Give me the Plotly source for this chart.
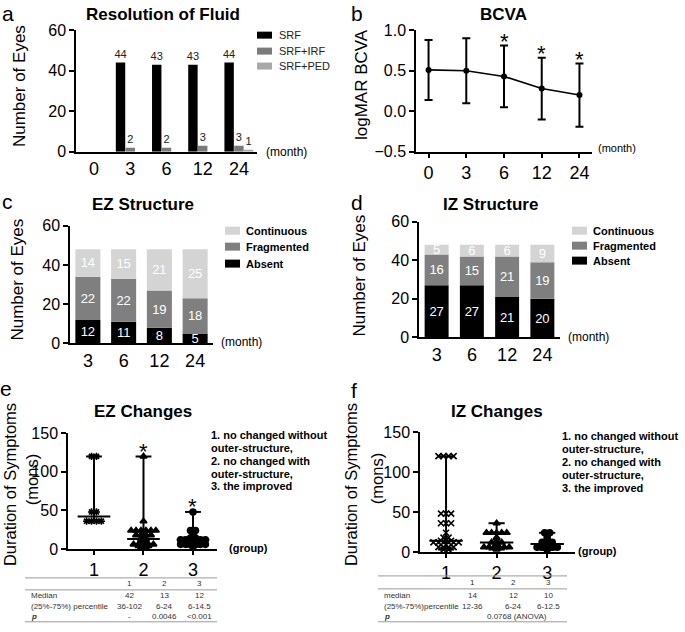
import plotly.graph_objects as go
import numpy as np

W, H = 685, 632
FONT = "Liberation Sans, Arial, sans-serif"

# ---------------- data ----------------
# a: Resolution of Fluid
months_a = ["0", "3", "6", "12", "24"]
srf = [0, 44, 43, 43, 44]
srf_irf = [0, 2, 2, 3, 3]
srf_ped = [0, 0, 0, 0, 1]

# b: BCVA
months_b = ["0", "3", "6", "12", "24"]
bcva_mean = [0.51, 0.50, 0.43, 0.28, 0.20]
bcva_sd = [0.37, 0.40, 0.38, 0.38, 0.39]
bcva_sig = [False, False, True, True, True]

# c / d: structure
months_cd = ["3", "6", "12", "24"]
ez_absent = [12, 11, 8, 5]
ez_frag = [22, 22, 19, 18]
ez_cont = [14, 15, 21, 25]
iz_absent = [27, 27, 21, 20]
iz_frag = [16, 15, 21, 19]
iz_cont = [5, 6, 6, 9]

# e: EZ changes (duration of symptoms, months)
ez_g1 = [120, 120, 48, 48, 36, 36, 36, 36]
ez_g2 = [120, 36, 24, 24, 24, 24, 24, 24, 18, 18, 18, 18, 14, 13, 13, 12,
         10, 10, 8, 6, 6, 6, 6, 6, 4, 4, 4, 3, 3]
ez_g3 = [48, 24, 24, 18, 14, 14, 12, 12, 12, 12, 12, 12, 10, 8,
         6, 6, 6, 6, 6, 6, 3]
ez_sig = [False, True, True]
# f: IZ changes
iz_g1 = [120, 120, 120, 120, 48, 48, 48, 36, 36, 36, 24, 18, 18, 14, 14, 14,
         12, 12, 12, 12, 12, 12, 6, 6, 6, 6, 3, 3]
iz_g2 = [36, 24, 24, 24, 24, 24, 18, 14, 12, 12, 12, 10, 6, 6, 6, 6, 6, 6, 4, 3]
iz_g3 = [24, 24, 18, 14, 12, 12, 12, 10, 10, 6, 6, 6, 6, 6, 3]
iz_sig = [False, False, False]

groups = ["1", "2", "3"]
legend_groups = ["1. no changed without", "outer-structure,", "2. no changed with",
                 "outer-structure,", "3. the improved"]

# tables
ez_tab_rows = ["Median", "(25%-75%) percentile", "p"]
ez_tab_vals = [["42", "13", "12"], ["36-102", "6-24", "6-14.5"], ["-", "0.0046", "<0.001"]]
iz_tab_rows = ["median", "(25%-75%)percentile", "p"]
iz_tab_vals = [["14", "12", "10"], ["12-36", "6-24", "6-12.5"]]
iz_tab_p = "0.0768 (ANOVA)"

BLACK = "#000000"
DGRAY = "#7f7f7f"
LGRAY = "#d4d4d4"
A_IRF = "#7a7a7a"
A_PED = "#a8a8a8"

# the captured page is 16 px taller than the figure and is fitted back to 632 px;
# place items so that they land where the reference shows them
VS = (H + 16) / H


def PX(x):
    return x / W


def PY(y):
    return 1 - (y * VS - 8) / H


fig = go.Figure()
ann = []
shapes = []


def text(t, x, y, size, bold=False, color="black", xanchor="center",
         yanchor="middle", angle=0, italic=False):
    if bold:
        t = "<b>" + t + "</b>"
    if italic:
        t = "<i>" + t + "</i>"
    ann.append(dict(text=t, x=PX(x), y=PY(y), xref="paper", yref="paper",
                    showarrow=False, xanchor=xanchor, yanchor=yanchor, borderpad=0,
                    textangle=angle, font=dict(family=FONT, size=size, color=color)))


def rect(x0, y0, x1, y1, color):
    shapes.append(dict(type="rect", xref="paper", yref="paper", x0=PX(x0), x1=PX(x1),
                       y0=PY(y1), y1=PY(y0), fillcolor=color, line=dict(width=0)))


def hline(x0, x1, y, color="#9a9a9a", w=1):
    shapes.append(dict(type="line", xref="paper", yref="paper", x0=PX(x0), x1=PX(x1),
                       y0=PY(y), y1=PY(y), line=dict(color=color, width=w)))


# ---------------- panel a ----------------
bw = 0.26
for vals, col, off in [(srf, BLACK, -0.40), (srf_irf, A_IRF, -0.13), (srf_ped, A_PED, 0.14)]:
    fig.add_trace(go.Bar(x=months_a, y=vals, marker=dict(color=col, line=dict(width=0)),
                         width=bw, offset=off,
                         text=[str(v) if v else "" for v in vals], textposition="outside",
                         textangle=0,
                         textfont=dict(family=FONT, size=11, color="#222222"),
                         constraintext="none", cliponaxis=False,
                         xaxis="x", yaxis="y", showlegend=False))

# ---------------- panel b ----------------
fig.add_trace(go.Scatter(x=months_b, y=bcva_mean, mode="lines+markers",
                         line=dict(color="black", width=1.6),
                         marker=dict(color="black", size=6),
                         error_y=dict(type="data", array=bcva_sd, color="black",
                                      thickness=2, width=4),
                         xaxis="x2", yaxis="y2", showlegend=False))


# ---------------- panel c / d ----------------
def stacked(cats, layers, xa, ya, width):
    base = np.zeros(len(cats))
    for vals, col in layers:
        fig.add_trace(go.Bar(x=cats, y=vals, base=base.copy(),
                             marker=dict(color=col, line=dict(width=0)),
                             width=width, offset=-width / 2, offsetgroup=xa,
                             text=[str(v) for v in vals], textposition="inside",
                             insidetextanchor="middle", textangle=0,
                             textfont=dict(family=FONT, size=13, color="white"),
                             constraintext="none",
                             xaxis=xa, yaxis=ya, showlegend=False))
        base = base + np.array(vals)


stacked(months_cd, [(ez_absent, BLACK), (ez_frag, DGRAY), (ez_cont, LGRAY)], "x3", "y3", 0.70)
stacked(months_cd, [(iz_absent, BLACK), (iz_frag, DGRAY), (iz_cont, LGRAY)], "x4", "y4", 0.68)


# ---------------- panel e / f ----------------
def spread(values, center, step):
    vals = np.array(values, dtype=float)
    xs = np.zeros(len(vals))
    for v in np.unique(vals):
        idx = np.where(vals == v)[0]
        n = len(idx)
        xs[idx] = center + (np.arange(n) - (n - 1) / 2) * step
    return xs


def scatter_panel(gs, syms, xa, ya, sig, step):
    for i, (g, s) in enumerate(zip(gs, syms)):
        c = i + 1
        xs = spread(g, c, step)
        fig.add_trace(go.Scatter(x=xs, y=g, mode="markers",
                                 marker=dict(symbol=s, size=6, color="black",
                                             line=dict(color="black", width=1.6)),
                                 xaxis=xa, yaxis=ya, showlegend=False, cliponaxis=False))
        med = float(np.median(g))
        lo, hi = min(g), max(g)
        for (x0, x1, y0, y1) in [(c - 0.33, c + 0.33, med, med),
                                 (c - 0.16, c + 0.16, hi, hi),
                                 (c - 0.16, c + 0.16, lo, lo),
                                 (c, c, lo, hi)]:
            shapes.append(dict(type="line", xref=xa, yref=ya, x0=x0, x1=x1, y0=y0, y1=y1,
                               line=dict(color="black", width=2)))
        if sig[i]:
            ann.append(dict(text="*", x=c, y=hi, xref=xa, yref=ya, showarrow=False,
                            yanchor="middle", yshift=5,
                            font=dict(family=FONT, size=22, color="black")))


scatter_panel([ez_g1, ez_g2, ez_g3], ["asterisk-open", "triangle-up", "circle"],
              "x5", "y5", ez_sig, 0.1)
scatter_panel([iz_g1, iz_g2, iz_g3], ["x-thin-open", "triangle-up", "circle"],
              "x6", "y6", iz_sig, 0.1)

# stars in b (category axis -> use category index)
for i, (v, sd, s) in enumerate(zip(bcva_mean, bcva_sd, bcva_sig)):
    if s:
        ann.append(dict(text="*", x=i, y=v + sd, xref="x2", yref="y2", showarrow=False,
                        yanchor="middle", yshift=4,
                        font=dict(family=FONT, size=22, color="black")))

# ---------------- axes ----------------
axcommon = dict(showgrid=False, zeroline=False, showline=True, linecolor="black",
                linewidth=1.5, ticks="outside", tickcolor="black", tickwidth=1.5,
                tickfont=dict(family=FONT, size=16, color="black"))


def xax(d, anchor, **kw):
    a = dict(axcommon)
    a.update(domain=[PX(d[0]), PX(d[1])], anchor=anchor)
    a["tickfont"] = dict(family=FONT, size=18, color="black")
    a.update(kw)
    return a


def yax(d, anchor, **kw):
    a = dict(axcommon)
    a.update(domain=[PY(d[1]), PY(d[0])], anchor=anchor, ticklen=5)
    a.update(kw)
    return a


layout = dict(
    width=W, height=H, margin=dict(l=0, r=0, t=0, b=0),
    paper_bgcolor="white", plot_bgcolor="white", barmode="group", showlegend=False,
    xaxis=xax((76, 257), "y", type="category", ticklen=0),
    yaxis=yax((30, 152), "x", range=[0, 60], tickvals=[0, 20, 40, 60]),
    xaxis2=xax((416, 592), "y2", type="category", ticklen=4),
    yaxis2=yax((30, 152), "x2", range=[-0.5, 1.0], tickvals=[-0.5, 0, 0.5, 1.0],
               tickformat=".1f"),
    xaxis3=xax((70, 213), "y3", type="category", ticklen=0),
    yaxis3=yax((226, 344), "x3", range=[0, 60], tickvals=[0, 20, 40, 60]),
    xaxis4=xax((419, 560), "y4", type="category", ticklen=0),
    yaxis4=yax((222, 338), "x4", range=[0, 60], tickvals=[0, 20, 40, 60]),
    xaxis5=xax((68, 217), "y5", range=[0.475, 3.485], tickvals=[1, 2, 3],
               ticktext=groups, ticklen=4),
    yaxis5=yax((434, 550), "x5", range=[0, 150], tickvals=[0, 50, 100, 150]),
    xaxis6=xax((420, 575), "y6", range=[0.485, 3.55], tickvals=[1, 2, 3],
               ticktext=groups, ticklen=4),
    yaxis6=yax((433, 553), "x6", range=[0, 150], tickvals=[0, 50, 100, 150]),
)

# ---------------- texts ----------------
for l, x, y in [("a", 8, 13), ("b", 357, 13), ("c", 7, 202), ("d", 357, 203),
                ("e", 6, 389), ("f", 354, 391)]:
    text(l, x, y, 21)
for t, x, y in [("Resolution of Fluid", 163, 14), ("BCVA", 504, 14),
                ("EZ Structure", 143, 205), ("IZ Structure", 490, 205),
                ("EZ Changes", 143, 412), ("IZ Changes", 497, 412)]:
    text(t, x, y, 17, bold=True)
text("Number of Eyes", 19, 86, 17, angle=-90)
text("logMAR BCVA", 361, 84, 17, angle=-90)
text("Number of Eyes", 18, 280, 17, angle=-90)
text("Number of Eyes", 360, 276, 17, angle=-90)
text("Duration of Symptoms", 10, 486, 16.5, angle=-90)
text("(mons)", 32, 480, 16.5, angle=-90)
text("Duration of Symptoms", 351, 486, 16.5, angle=-90)
text("(mons)", 377, 480, 16.5, angle=-90)
text("(month)", 265, 152, 12, xanchor="left")
text("(month)", 597, 148, 11, xanchor="left")
text("(month)", 220, 343, 12, xanchor="left")
text("(month)", 567, 338, 12, xanchor="left")
text("(group)", 228, 549, 11, bold=True, xanchor="left")
text("(group)", 577, 552, 11, bold=True, xanchor="left")

for lab, col, yc in [("SRF", BLACK, 35), ("SRF+IRF", A_IRF, 51), ("SRF+PED", A_PED, 66)]:
    rect(257, yc - 3.5, 272, yc + 3.5, col)
    text(lab, 278, yc, 11, color="#222222", xanchor="left")
for lab, col, yc in [("Continuous", LGRAY, 231), ("Fragmented", DGRAY, 247), ("Absent", BLACK, 264)]:
    rect(225, yc - 4, 240, yc + 4, col)
    text(lab, 245, yc, 11, bold=True, xanchor="left")
for lab, col, yc in [("Continuous", LGRAY, 231), ("Fragmented", DGRAY, 246), ("Absent", BLACK, 261)]:
    rect(572, yc - 4, 587, yc + 4, col)
    text(lab, 592, yc, 11, bold=True, xanchor="left")
for i, line in enumerate(legend_groups):
    text(line, 210, 436 + 12.8 * i, 11, bold=True, xanchor="left")
    text(line, 561, 437 + 13 * i, 11, bold=True, xanchor="left")

# tables
TC = "#333333"
TS = 8
hline(25, 217, 579); hline(25, 217, 591); hline(25, 217, 623)
for j, g in enumerate(groups):
    text(g, [129, 164, 199][j], 585, TS, color=TC)
for i, (r, vals) in enumerate(zip(ez_tab_rows, ez_tab_vals)):
    yy = [597, 608, 618][i]
    text(r, 30, yy, TS, color=TC, xanchor="left", bold=(r == "p"), italic=(r == "p"))
    for j, v in enumerate(vals):
        text(v, [129, 164, 199][j], yy, TS, color=TC)

hline(378, 567, 577); hline(378, 567, 590); hline(378, 567, 623)
for j, g in enumerate(groups):
    text(g, [472, 513, 548][j], 584, TS, color=TC)
for i, r in enumerate(iz_tab_rows):
    yy = [597, 608, 618][i]
    text(r, 383, yy, TS, color=TC, xanchor="left", bold=(r == "p"), italic=(r == "p"))
    if i < 2:
        for j, v in enumerate(iz_tab_vals[i]):
            text(v, [472, 513, 548][j], yy, TS, color=TC)
    else:
        text(iz_tab_p, 517, yy, TS, color=TC)

layout["annotations"] = ann
layout["shapes"] = shapes
fig.update_layout(**layout)

MARGIN_JS = "data:text/javascript,document.body.style.margin='0';//.js"
fig.write_html("out.html", config={"displayModeBar": False},
               include_mathjax=MARGIN_JS,
               post_script="document.body.style.margin='0';")
